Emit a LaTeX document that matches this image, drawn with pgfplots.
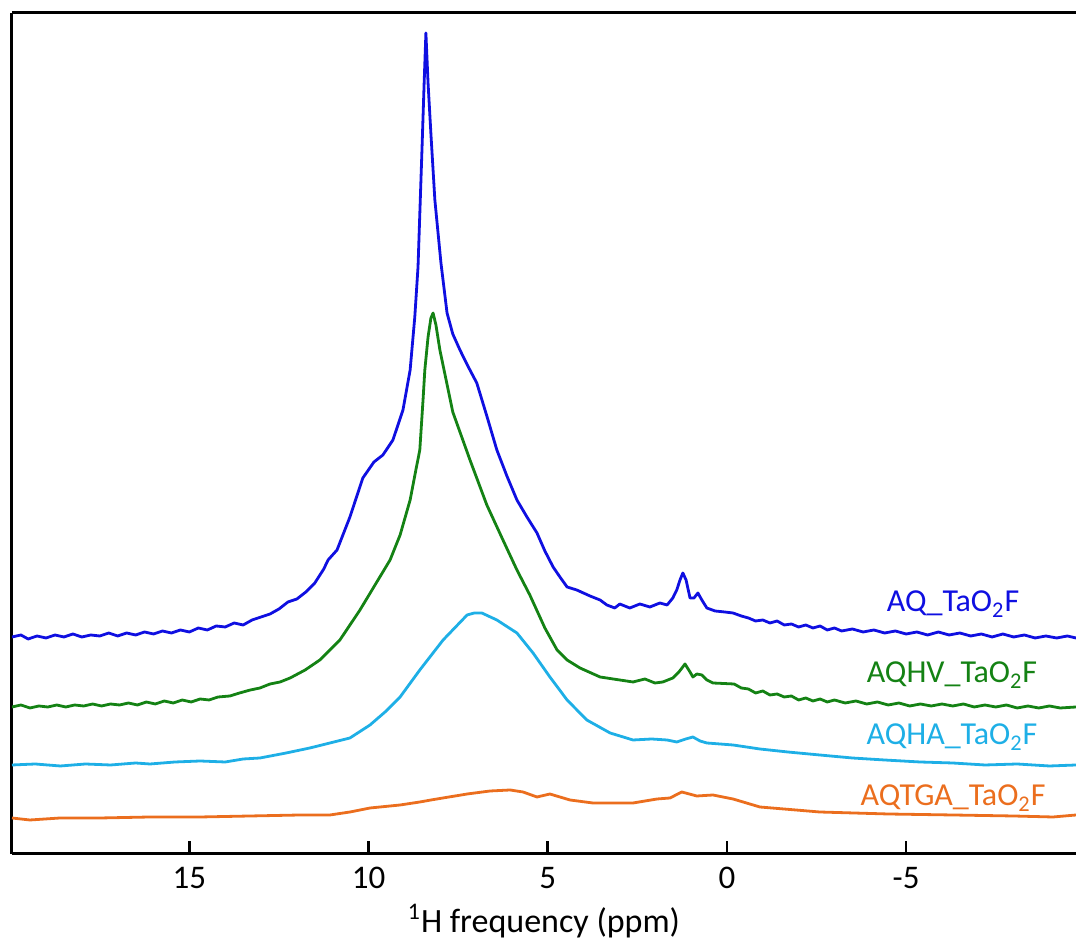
\documentclass[border=0pt]{standalone}
\usepackage{fontspec}
\setmainfont{Carlito}
\usepackage{pgfplots}
\pgfplotsset{compat=1.18}
\definecolor{cBlue}{RGB}{15,15,225}
\definecolor{cGreen}{RGB}{20,130,20}
\definecolor{cCyan}{RGB}{30,175,230}
\definecolor{cOrange}{RGB}{235,110,30}
\begin{document}
\begin{tikzpicture}
\begin{axis}[
  name=ax,
  scale only axis,
  width=532pt, height=420.5pt,
  x dir=reverse,
  xmin=-9.74, xmax=19.95,
  ymin=0, ymax=841,
  axis x line*=box,
  axis y line*=left,
  xtick={-5,0,5,10,15},
  xticklabels={-5,0,5,10,15},
  xtick pos=lower,
  ytick=\empty,
  tick align=inside,
  major tick length=6.5pt,
  axis line style={line width=1.5pt, black},
  tick style={line width=1.3pt, black},
  ticklabel style={font=\fontsize{16.5}{19}\selectfont, yshift=-3pt},
  xlabel={\textsuperscript{1}H frequency (ppm)},
  xlabel style={font=\fontsize{17}{20}\selectfont, yshift=-1pt},
  every axis plot/.append style={line width=1.4pt, line join=round},
  clip=true,
]
% AQ_TaO2F (blue)
\addplot[cBlue] coordinates {
(19.95,217) (19.7,219) (19.5,215) (19.25,218) (19.0,216) (18.75,219) (18.5,217) (18.25,220) (18.0,217) (17.75,219)
(17.5,218) (17.25,221) (17.0,218) (16.75,221) (16.5,219) (16.25,222) (16.0,220) (15.75,223) (15.5,221) (15.25,224)
(15.0,222) (14.75,226) (14.5,224) (14.25,228) (14.0,227) (13.75,231) (13.5,229) (13.25,234) (13.0,237) (12.75,240)
(12.5,245) (12.25,252) (12.0,255) (11.75,262) (11.5,271) (11.25,285) (11.13,294) (10.88,304) (10.52,337) (10.16,376)
(9.85,392) (9.60,399) (9.32,414) (9.04,444) (8.84,484) (8.71,537) (8.62,587) (8.51,704) (8.45,770) (8.40,821)
(8.34,771) (8.26,720) (8.15,654) (7.98,591) (7.81,541) (7.65,520) (7.45,504) (7.23,488) (6.98,471) (6.70,438)
(6.42,404) (6.14,378) (5.86,354) (5.58,337) (5.30,321) (5.08,303) (4.85,287) (4.66,277) (4.46,267) (4.19,264)
(3.82,258) (3.54,254) (3.35,249) (3.13,246) (2.99,250) (2.71,246) (2.43,250) (2.15,247) (1.87,251) (1.67,249)
(1.51,256) (1.40,264) (1.31,274) (1.23,281) (1.14,274) (1.03,256) (0.92,256) (0.81,261) (0.70,254) (0.56,246)
(0.33,243) (0.06,242) (-0.17,241) (-0.4,238) (-0.6,236) (-0.8,233) (-1.0,234) (-1.2,231) (-1.4,233) (-1.6,229)
(-1.8,230) (-2.0,227) (-2.2,229) (-2.4,226) (-2.6,228) (-2.8,224) (-3.0,226) (-3.2,223) (-3.5,225) (-3.8,222)
(-4.1,224) (-4.4,221) (-4.7,223) (-5.0,220) (-5.3,222) (-5.6,219) (-5.9,222) (-6.2,219) (-6.5,221) (-6.8,218)
(-7.1,220) (-7.4,217) (-7.7,220) (-8.0,217) (-8.3,219) (-8.6,216) (-8.9,218) (-9.2,216) (-9.5,218) (-9.74,216)
};
% AQHV_TaO2F (green)
\addplot[cGreen] coordinates {
(19.95,147) (19.7,149) (19.45,146) (19.2,148) (18.95,147) (18.7,149) (18.45,147) (18.2,149) (17.95,148) (17.7,150)
(17.45,148) (17.2,150) (16.95,149) (16.7,151) (16.45,149) (16.2,152) (15.95,150) (15.7,153) (15.45,151) (15.2,154)
(14.95,152) (14.7,155) (14.45,154) (14.2,157) (13.87,158) (13.6,161) (13.3,164) (13.03,166) (12.75,170) (12.47,172)
(12.19,176) (11.77,184) (11.36,194) (11.08,204) (10.80,214) (10.52,229) (10.24,244) (9.82,269) (9.40,294) (9.12,319)
(8.84,354) (8.68,384) (8.57,404) (8.48,454) (8.43,484) (8.34,517) (8.26,536) (8.20,541) (8.12,529) (8.01,504)
(7.65,442) (7.17,394) (6.70,349) (6.25,314) (5.86,284) (5.50,259) (5.08,226) (4.74,204) (4.46,194) (4.10,186)
(3.54,177) (2.99,174) (2.62,172) (2.29,175) (2.01,171) (1.79,172) (1.51,176) (1.34,182) (1.17,190) (1.03,182)
(0.95,177) (0.84,180) (0.70,179) (0.56,174) (0.39,171) (-0.2,170) (-0.4,166) (-0.6,165) (-0.8,161) (-1.0,163)
(-1.2,159) (-1.4,160) (-1.6,157) (-1.8,158) (-2.0,154) (-2.2,156) (-2.4,153) (-2.6,155) (-2.8,152) (-3.0,154)
(-3.3,151) (-3.6,153) (-3.9,150) (-4.2,152) (-4.5,149) (-4.8,151) (-5.1,148) (-5.4,150) (-5.7,148) (-6.0,150)
(-6.3,148) (-6.6,150) (-6.9,147) (-7.2,149) (-7.5,147) (-7.8,149) (-8.1,146) (-8.4,148) (-8.7,146) (-9.0,148)
(-9.3,146) (-9.74,147)
};
% AQHA_TaO2F (cyan)
\addplot[cCyan] coordinates {
(19.95,89) (19.3,90) (18.6,88) (17.9,90) (17.2,89) (16.5,91) (16.10,90) (15.4,92) (14.70,93) (14.0,92)
(13.5,95) (13.03,96) (12.3,101) (11.64,106) (10.52,116) (9.96,129) (9.54,142) (9.12,157) (8.57,184) (7.92,214)
(7.25,239) (7.05,241) (6.84,241) (6.42,234) (5.86,221) (5.41,201) (4.94,177) (4.46,154) (3.91,134) (3.26,121)
(2.62,114) (2.1,115) (1.67,114) (1.40,112) (1.15,115) (0.95,117) (0.75,113) (0.56,111) (-0.17,109) (-0.92,105)
(-1.7,102) (-2.59,99) (-3.5,96) (-4.4,94) (-5.39,92) (-6.3,91) (-7.2,89) (-8.1,90) (-9.0,88) (-9.74,89)
};
% AQTGA_TaO2F (orange)
\addplot[cOrange] coordinates {
(19.95,36) (19.45,34) (18.61,36) (17.49,36) (16.10,37) (14.70,37) (13.31,38) (11.91,39) (11.08,39) (10.52,42)
(9.96,46) (9.12,49) (8.57,52) (8.26,54) (7.25,60) (6.61,63) (6.05,64) (5.69,62) (5.30,57) (4.94,60)
(4.38,54) (3.74,51) (2.62,51) (1.95,55) (1.59,56) (1.26,62) (0.84,58) (0.39,59) (-0.17,55) (-0.92,47)
(-2.59,42) (-4.5,40) (-6.31,39) (-8.0,38) (-9.10,37) (-9.74,39)
};
\node[anchor=base, text=cBlue, font=\fontsize{16}{19}\selectfont] at (axis cs:-6.31,242) {AQ\_TaO\textsubscript{2}F};
\node[anchor=base, text=cGreen, font=\fontsize{16}{19}\selectfont] at (axis cs:-6.28,171) {AQHV\_TaO\textsubscript{2}F};
\node[anchor=base, text=cCyan, font=\fontsize{16}{19}\selectfont] at (axis cs:-6.28,109) {AQHA\_TaO\textsubscript{2}F};
\node[anchor=base, text=cOrange, font=\fontsize{16}{19}\selectfont] at (axis cs:-6.31,48) {AQTGA\_TaO\textsubscript{2}F};
\end{axis}
\pgfresetboundingbox
\path[use as bounding box] ([xshift=-6pt,yshift=-43pt]ax.south west) rectangle ([yshift=6.5pt]ax.north east);
\end{tikzpicture}
\end{document}
